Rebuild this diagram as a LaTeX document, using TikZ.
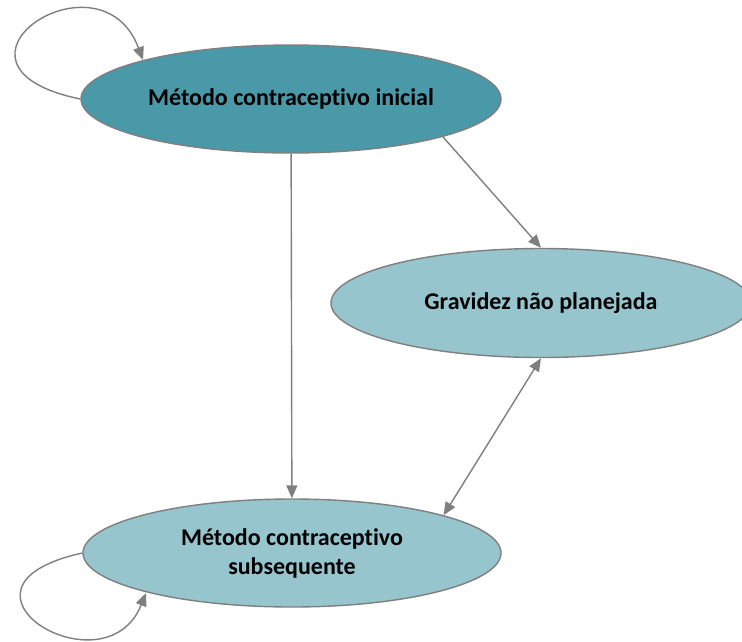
\documentclass[tikz,border=0pt]{standalone}
\usepackage{fontspec}
\setmainfont[Ligatures={NoCommon}]{Carlito}
\usetikzlibrary{shapes.geometric,arrows.meta}
\definecolor{darkteal}{HTML}{4A99A8}
\definecolor{lightteal}{HTML}{96C5CE}
\definecolor{edgegray}{HTML}{7F7F7F}
\tikzset{
  stateell/.style={ellipse, draw=edgegray, line width=1.4pt, inner sep=0pt,
    font=\fontsize{24}{29}\selectfont\bfseries, align=center, text=black},
  conn/.style={draw=edgegray, line width=1.4pt,
    -{Triangle[length=13pt,width=11pt]}},
  biconn/.style={draw=edgegray, line width=1.4pt,
    {Triangle[length=13pt,width=11pt]}-{Triangle[length=13pt,width=11pt]}}
}
\begin{document}
\begin{tikzpicture}[x=1pt,y=-1pt]
\useasboundingbox (0,0) rectangle (742,641);
\begin{scope}
\clip (0,0) rectangle (742,641);
\node[stateell, fill=darkteal, minimum width=420pt, minimum height=108pt] (top) at (291,99) {Método contraceptivo inicial};
\node[stateell, fill=lightteal, minimum width=420pt, minimum height=109pt] (mid) at (541,303) {Gravidez não planejada};
\node[stateell, fill=lightteal, minimum width=418pt, minimum height=108pt] (bot) at (292,553) {Método contraceptivo\\subsequente};
\draw[conn] (top) -- (bot);
\draw[conn] (top.-14.6) -- (mid.north);
\draw[biconn] (mid.south) -- (bot.14.4);
\coordinate (tl) at (143,60);
\coordinate (bl) at (146,593);
\draw[conn] (top.west) .. controls (-80,66) and (100,-55) .. (tl);
\draw[conn] (bot.west) .. controls (-72,587) and (105,695) .. (bl);
\end{scope}
\end{tikzpicture}
\end{document}
